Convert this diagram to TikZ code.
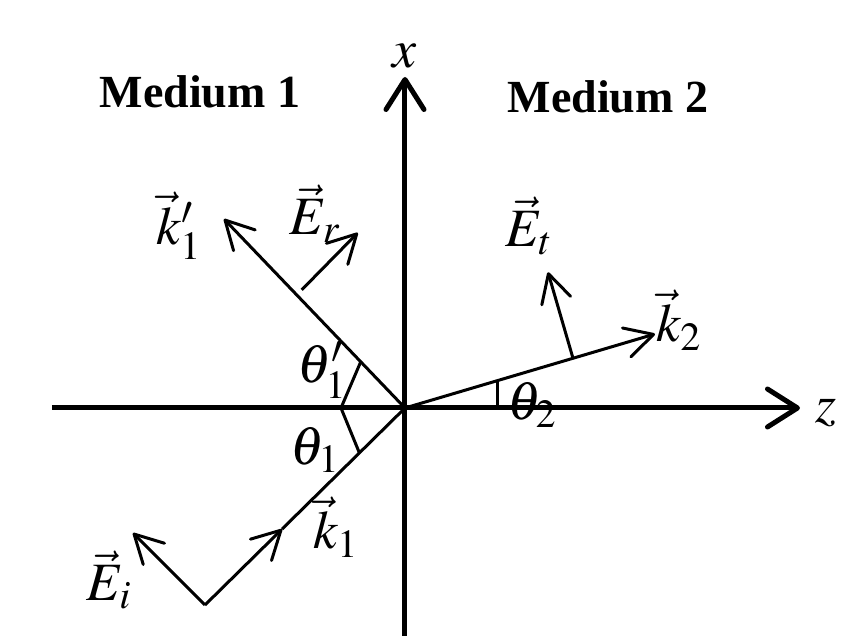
\documentclass[tikz,border=0pt]{standalone}
\usepackage{mathptmx}
\usepackage[no-math]{fontspec}
\setmainfont{Liberation Serif}
\usetikzlibrary{arrows.meta,calc}

\begin{document}
\begin{tikzpicture}[x=0.5pt,y=0.5pt,
    axis/.style={line width=2.5pt,-{Straight Barb[length=15pt,width=19pt,round]}},
    ray/.style={line width=1.5pt},
    vecarrow/.style={ray,-{Straight Barb[length=14pt,width=15pt,round]}},
    lbl/.style={font=\fontsize{27}{30}\selectfont},
    medium/.style={font=\fontsize{23}{26}\selectfont\bfseries}]
    \useasboundingbox (-405,-228) rectangle (447,408);
    % points
    \coordinate (O) at (0,0);
    \coordinate (xbot) at (0,-230);
    \coordinate (xtop) at (0,331);
    \coordinate (zleft) at (-353,0);
    \coordinate (zright) at (395,0);
    \coordinate (src) at (-200,-197);
    \coordinate (kr) at (-181,189);
    \coordinate (kt) at (250,74);
    % axes
    \draw[axis] (xbot) -- (xtop);
    \draw[axis] (zleft) -- (zright);
    % incident, reflected, transmitted waves
    \draw[vecarrow] (src) -- ($(src)!0.385!(O)$) coordinate (kmid);
    \draw[ray] (kmid) -- (O);
    \draw[vecarrow] (O) -- (kr);
    \draw[vecarrow] (O) -- (kt);
    \draw[vecarrow] (src) -- ++(-72,72) coordinate (Ei);
    \coordinate (Erfoot) at ($(O)!0.62!(kr)+(9,1)$);
    \draw[vecarrow] (Erfoot) -- ++(56,57) coordinate (Er);
    \coordinate (Etfoot) at ($(O)!0.672!(kt)$);
    \draw[vecarrow] (Etfoot) -- ++(-25,86) coordinate (Et);
    % angles
    \coordinate (a0) at (-64,0);
    \draw[ray] (a0) -- ($(O)!64pt/2!(kr)$);
    \draw[ray] (a0) -- ($(O)!64pt/2!(src)$);
    \draw[ray] (93,0) -- (93,27.5);
    % labels
    \node[medium] (m1) at (-205,316) {Medium 1};
    \node[medium] (m2) at (203,311) {Medium 2};
    \node[lbl] (xl) at (0,352) {$x$};
    \node[lbl] (zl) at (421,-5) {$z$};
    \node[lbl] (k1p) at (-226,182) {$\vec{k}_1^{\prime}$};
    \node[lbl] (Erl) at (-90,194) {$\vec{E}_r$};
    \node[lbl] (Etl) at (124,182) {$\vec{E}_t$};
    \node[lbl] (k2l) at (274,88) {$\vec{k}_2$};
    \node[lbl] (th1p) at (-83,38) {$\theta_1^{\prime}$};
    \node[lbl] (th1) at (-90,-42) {$\theta_1$};
    \node[lbl] (th2) at (127,3) {$\theta_2$};
    \node[lbl] (k1l) at (-69,-119) {$\vec{k}_1$};
    \node[lbl] (Eil) at (-296,-172) {$\vec{E}_i$};
\end{tikzpicture}
\end{document}
